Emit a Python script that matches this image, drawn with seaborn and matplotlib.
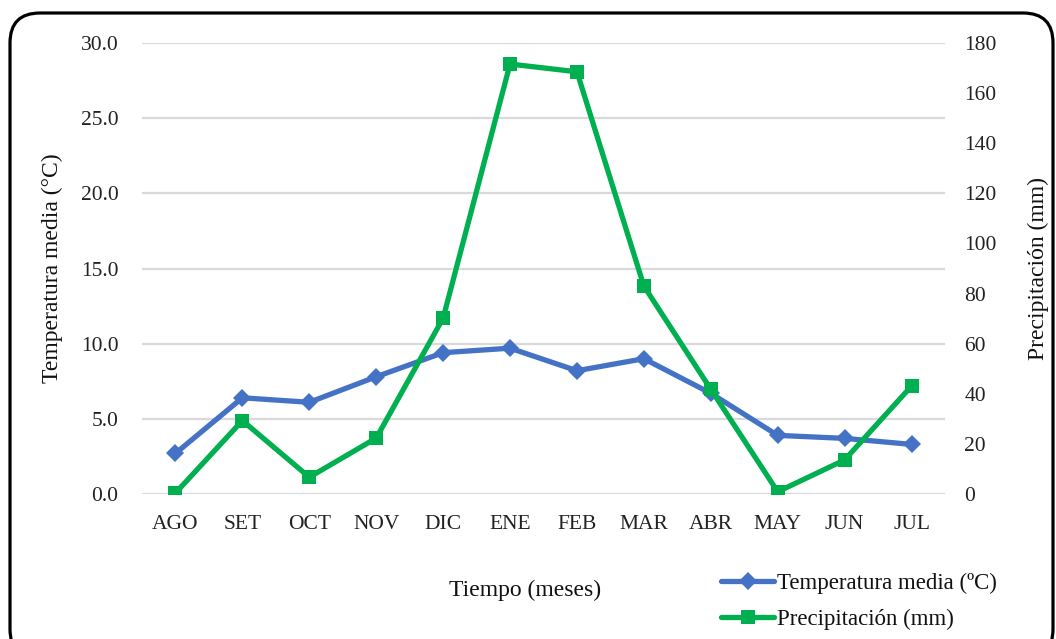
import numpy as np
import pandas as pd
import matplotlib
matplotlib.use("Agg")
import matplotlib.pyplot as plt
from matplotlib.patches import FancyBboxPatch
from matplotlib.lines import Line2D
import seaborn as sns

months = ["AGO", "SET", "OCT", "NOV", "DIC", "ENE", "FEB", "MAR", "ABR", "MAY", "JUN", "JUL"]
temperatura = [2.7, 6.4, 6.1, 7.8, 9.4, 9.7, 8.2, 9.0, 6.7, 3.9, 3.7, 3.3]
precipitacion = [0.4, 29.3, 6.7, 22.3, 70.2, 171.6, 168.5, 83.0, 41.8, 0.9, 13.6, 43.1]
temp_ticks = [0, 5, 10, 15, 20, 25, 30]
prec_ticks = [0, 20, 40, 60, 80, 100, 120, 140, 160, 180]

sns.set_theme(style="white")
plt.rcParams["font.family"] = ["Liberation Serif", "DejaVu Serif"]

BLUE = "#4472C4"
GREEN = "#00B050"

df = pd.DataFrame({"pos": np.arange(len(months)), "mes": months,
                   "temp": temperatura, "prec": precipitacion})

W, H = 1056, 639
fig = plt.figure(figsize=(W / 100, H / 100), dpi=100)
ax = fig.add_axes([142 / W, 1 - 494 / H, (945 - 142) / W, (494 - 43) / H])
ax2 = ax.twinx()

sns.lineplot(data=df, x="pos", y="temp", ax=ax, color=BLUE, linewidth=3.8,
             marker="D", markersize=9, markeredgewidth=0, sort=False)
sns.lineplot(data=df, x="pos", y="prec", ax=ax2, color=GREEN, linewidth=3.8,
             marker="s", markersize=10, markeredgewidth=0, sort=False)

ax.set_xlim(-0.5, len(months) - 0.5)
ax.set_ylim(0, 30)
ax2.set_ylim(0, 180)
ax.set_yticks(temp_ticks)
ax.set_yticklabels([f"{t:.1f}" for t in temp_ticks])
ax2.set_yticks(prec_ticks)
ax2.set_yticklabels([str(t) for t in prec_ticks])
ax.set_xticks(df["pos"])
ax.set_xticklabels(months)

for a in (ax, ax2):
    for s in a.spines.values():
        s.set_visible(False)
    a.grid(False)
ax.yaxis.grid(True, color="#D9D9D9", linewidth=1.6)
ax.set_axisbelow(True)

ax.tick_params(axis="y", length=0, pad=17, labelsize=15.5, colors="#222222")
ax.tick_params(axis="x", length=0, pad=15, labelsize=15.5, colors="#222222")
ax2.tick_params(axis="y", length=0, pad=14, labelsize=15.5, colors="#222222")

ax.set_xlabel("")
ax.set_ylabel("Temperatura media (°C)", fontsize=17, color="#111111", labelpad=13)
ax2.set_ylabel("Precipitación (mm)", fontsize=17, color="#111111", labelpad=22)

fig.text(525 / W, 1 - 590 / H, "Tiempo (meses)", ha="center", va="center",
         fontsize=17, color="#111111")

handles = [
    Line2D([], [], color=BLUE, linewidth=3.8, marker="D", markersize=9, markeredgewidth=0),
    Line2D([], [], color=GREEN, linewidth=3.8, marker="s", markersize=10, markeredgewidth=0),
]
fig.legend(handles, ["Temperatura media (ºC)", "Precipitación (mm)"],
           loc="upper left", bbox_to_anchor=(710 / W, 1 - 561 / H),
           frameon=False, fontsize=16.5, handlelength=2.3, handletextpad=0.12,
           labelspacing=0.68, borderpad=0, labelcolor="#111111")

frame = FancyBboxPatch((10, -20), 1043, 627 + 20 - 1,
                       boxstyle="round,pad=0,rounding_size=30",
                       transform=None, fill=False, edgecolor="black",
                       linewidth=2.3, zorder=10)
fig.patches.append(frame)

fig.savefig("out.png", dpi=100)
